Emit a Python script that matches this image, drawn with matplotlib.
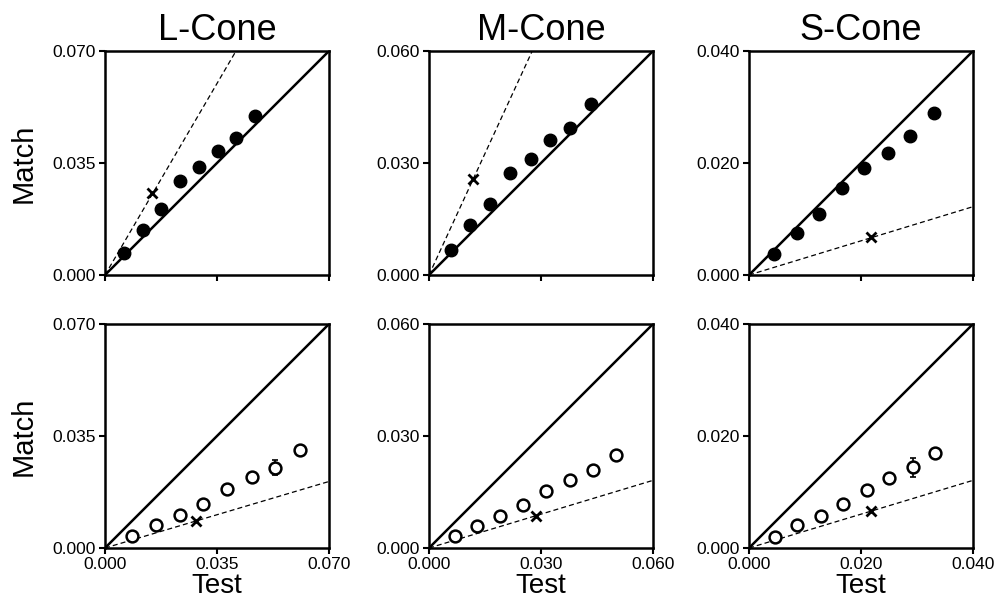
import matplotlib
matplotlib.use("Agg")
import matplotlib.pyplot as plt
import numpy as np

plt.rcParams['font.family'] = ['Liberation Sans', 'DejaVu Sans']

titles = ["L-Cone", "M-Cone", "S-Cone"]
limits = [0.070, 0.060, 0.040]
tick_labels = [["0.000", "0.035", "0.070"],
               ["0.000", "0.030", "0.060"],
               ["0.000", "0.020", "0.040"]]

# top row: filled circles
top_test = [
    [0.0059, 0.0118, 0.0175, 0.0234, 0.0293, 0.0354, 0.0410, 0.0470],
    [0.0058, 0.0109, 0.0164, 0.0218, 0.0272, 0.0325, 0.0378, 0.0435],
    [0.0044, 0.0085, 0.0125, 0.0166, 0.0205, 0.0248, 0.0287, 0.0331],
]
top_match = [
    [0.0069, 0.0142, 0.0207, 0.0293, 0.0337, 0.0388, 0.0428, 0.0496],
    [0.0066, 0.0133, 0.0190, 0.0274, 0.0312, 0.0361, 0.0394, 0.0457],
    [0.0038, 0.0075, 0.0109, 0.0156, 0.0191, 0.0217, 0.0249, 0.0289],
]
top_cross_x = [0.0148, 0.0118, 0.0218]
top_cross_y = [0.0255, 0.0257, 0.0067]
top_slope = [1.71, 2.17, 0.305]

# bottom row: open circles
bot_test = [
    [0.0084, 0.0158, 0.0233, 0.0306, 0.0382, 0.0460, 0.0531, 0.0610],
    [0.0069, 0.0128, 0.0190, 0.0251, 0.0314, 0.0377, 0.0439, 0.0500],
    [0.0046, 0.0086, 0.0128, 0.0168, 0.0211, 0.0250, 0.0292, 0.0332],
]
bot_match = [
    [0.0037, 0.0072, 0.0103, 0.0139, 0.0185, 0.0222, 0.0251, 0.0305],
    [0.0031, 0.0060, 0.0085, 0.0115, 0.0153, 0.0183, 0.0208, 0.0249],
    [0.0019, 0.0041, 0.0057, 0.0078, 0.0103, 0.0125, 0.0144, 0.0169],
]
bot_err = [
    [0, 0, 0, 0, 0, 0, 0.0023, 0],
    [0, 0, 0, 0, 0, 0, 0, 0],
    [0, 0, 0, 0, 0, 0, 0.0017, 0],
]
bot_cross_x = [0.0283, 0.0286, 0.0218]
bot_cross_y = [0.0083, 0.0085, 0.0066]
bot_slope = [0.297, 0.302, 0.302]

fig = plt.figure(figsize=(9.97, 6.03), dpi=100)

lefts = [105 / 997, 429 / 997, 749 / 997]
bottoms = [1 - 275 / 603, 1 - 548 / 603]
w = 224 / 997
h = 224 / 603


def style_axes(ax, i, bottom_row):
    lim = limits[i]
    ax.set_xlim(0, lim)
    ax.set_ylim(0, lim)
    ticks = [0, lim / 2, lim]
    ax.set_xticks(ticks)
    ax.set_yticks(ticks)
    ax.set_yticklabels(tick_labels[i])
    if bottom_row:
        ax.set_xticklabels(tick_labels[i])
        ax.set_xlabel("Test", fontsize=20, labelpad=1)
    else:
        ax.set_xticklabels([])
    ax.tick_params(direction='out', length=4.5, width=1.5, labelsize=12.5, pad=2)
    for s in ax.spines.values():
        s.set_linewidth(1.8)
    if i == 0:
        ax.set_ylabel("Match", fontsize=21, labelpad=11)
    # identity line
    ax.plot([0, lim], [0, lim], color='black', lw=1.8, clip_on=True)


for i in range(3):
    lim = limits[i]
    # top row
    ax = fig.add_axes([lefts[i], bottoms[0], w, h])
    style_axes(ax, i, False)
    ax.set_title(titles[i], fontsize=26, pad=8)
    xs = np.array([0, lim])
    ax.plot(xs, top_slope[i] * xs, color='black', lw=0.9, ls=(0, (4, 2.5)))
    ax.plot(top_test[i], top_match[i], 'o', color='black', ms=9, zorder=3)
    ax.plot(top_cross_x[i], top_cross_y[i], 'x', color='black', ms=7, mew=2, zorder=3)

    # bottom row
    ax = fig.add_axes([lefts[i], bottoms[1], w, h])
    style_axes(ax, i, True)
    ax.plot(xs, bot_slope[i] * xs, color='black', lw=0.9, ls=(0, (4, 2.5)))
    ax.errorbar(bot_test[i], bot_match[i], yerr=bot_err[i], fmt='none',
                ecolor='black', elinewidth=1.2, capsize=2, capthick=1.2, zorder=2)
    ax.plot(bot_test[i], bot_match[i], 'o', mfc='white', mec='black', mew=1.8,
            ms=8.5, zorder=3)
    ax.plot(bot_cross_x[i], bot_cross_y[i], 'x', color='black', ms=7, mew=2, zorder=4)

fig.savefig("out.png", dpi=100)
